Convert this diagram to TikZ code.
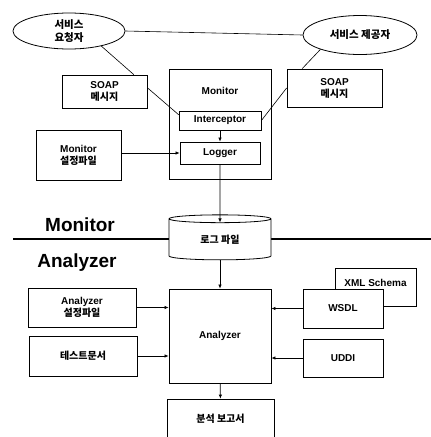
\documentclass[tikz,border=0pt]{standalone}
\usepackage{fontspec}
\setmainfont{Liberation Sans}
\newfontfamily\kr{Noto Sans CJK KR}
\usetikzlibrary{arrows.meta,shapes.geometric}

\begin{document}
\begin{tikzpicture}[x=1pt,y=1pt,
  font=\fontsize{10}{12}\selectfont\bfseries,
  box/.style={draw,line width=0.8pt,inner sep=0pt,align=center,fill=white},
  ellip/.style={ellipse,draw,line width=0.8pt,inner sep=0pt,align=center,fill=white,
    font=\kr\fontsize{10.5}{13}\selectfont\bfseries},
  arr/.style={-{Latex[length=4pt,width=3.5pt]},line width=0.7pt},
  link/.style={line width=0.6pt},
  bigtitle/.style={font=\fontsize{19}{22}\selectfont\bfseries}]
  \useasboundingbox (0,0) rectangle (431,-437);
  \clip (0,0) rectangle (431,-437);

  % monitor / analyzer divider
  \draw[line width=2pt] (13,-239) -- (431,-239);
  \node[bigtitle] (tmon) at (80,-225) {Monitor};
  \node[bigtitle] (tana) at (77,-263) {Analyzer};

  % services
  \node[ellip,minimum width=112pt,minimum height=36pt] (req) at (69,-31)
    {서비스\\요청자};
  \node[ellip,minimum width=114pt,minimum height=39pt] (prov) at (360,-35)
    {서비스 제공자};
  \node[box,minimum width=85pt,minimum height=33pt] (soapL) at (104.5,-91.5)
    {SOAP\\{\kr 메시지}};
  \node[box,minimum width=95pt,minimum height=38pt] (soapR) at (334.5,-88)
    {SOAP\\{\kr 메시지}};

  % monitor part
  \node[box,minimum width=102pt,minimum height=110pt,
        label={[anchor=center,yshift=-22pt]north:Monitor}] (mon) at (220,-124) {};
  \node[box,minimum width=82pt,minimum height=19pt] (icpt) at (220,-120.5) {Interceptor};
  \node[box,minimum width=80pt,minimum height=22pt] (logger) at (220,-153) {Logger};
  \node[box,minimum width=85pt,minimum height=50pt] (mcfg) at (78.5,-155)
    {Monitor\\{\kr 설정파일}};

  \node[cylinder,shape border rotate=90,draw,line width=0.8pt,fill=white,aspect=0.2,
        minimum width=102pt,minimum height=45pt,inner sep=0pt,
        font=\kr\fontsize{10}{12}\selectfont\bfseries] (log) at (220,-239.5)
    {로그 파일};

  % analyzer part
  \node[box,minimum width=102pt,minimum height=94pt] (ana) at (220,-336) {Analyzer};
  \node[box,minimum width=108pt,minimum height=39pt] (acfg) at (82,-307.5)
    {Analyzer\\{\kr 설정파일}};
  \node[box,minimum width=108pt,minimum height=40pt] (test) at (83,-356) {\kr 테스트문서};
  \node[box,minimum width=81pt,minimum height=38pt,
        label={[anchor=center,yshift=-15pt]north:XML Schema}] (xml) at (375.5,-287) {};
  \node[box,minimum width=80pt,minimum height=39pt] (wsdl) at (343,-308.5) {WSDL};
  \node[box,minimum width=80pt,minimum height=38pt] (uddi) at (343,-358) {UDDI};
  \node[box,minimum width=107pt,minimum height=40pt] (rep) at (220.5,-419)
    {\kr 분석 보고서};

  % connectors
  \draw[link] (req.east) -- (prov.west);
  \draw[link] (req.-25) -- (soapL.30);
  \draw[link] (prov.-160) -- (soapR.149);
  \draw[link] (soapL.5) -- (icpt.172);
  \draw[link] (soapR.west) -- (icpt.east);

  \draw[arr] (icpt) -- (logger);
  \draw[arr] (mcfg.east |- logger.west) -- (logger.west);
  \draw[arr] (logger) -- ([yshift=-8pt]log.north);
  \draw[arr] (log.south) -- (ana.north);
  \draw[arr] (acfg.east) -- (acfg.east -| ana.west);
  \draw[arr] (test.east) -- (test.east -| ana.west);
  \draw[arr] (wsdl.west) -- (wsdl.west -| ana.east);
  \draw[arr] (uddi.west) -- (uddi.west -| ana.east);
  \draw[arr] (ana) -- (rep);
\end{tikzpicture}
\end{document}
